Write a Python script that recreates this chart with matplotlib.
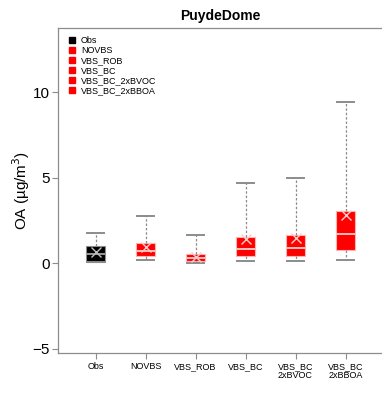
import matplotlib.pyplot as plt
from matplotlib.lines import Line2D

plt.rcParams['font.family'] = ['Liberation Sans', 'DejaVu Sans']

site = "PuydeDome"
runs = ["Obs", "NOVBS", "VBS_ROB", "VBS_BC", "VBS_BC_2xBVOC", "VBS_BC_2xBBOA"]
tick_labels = ["Obs", "NOVBS", "VBS_ROB", "VBS_BC", "VBS_BC\n2xBVOC", "VBS_BC\n2xBBOA"]

# box statistics per run (ug/m3)
whislo = [0.08, 0.20, 0.03, 0.12, 0.12, 0.18]
q1 = [0.08, 0.40, 0.12, 0.43, 0.43, 0.78]
med = [0.53, 0.72, 0.31, 0.84, 0.91, 1.73]
q3 = [0.98, 1.17, 0.54, 1.56, 1.63, 3.08]
whishi = [1.76, 2.79, 1.66, 4.72, 5.01, 9.45]
means = [0.63, 0.97, 0.39, 1.40, 1.48, 2.82]

box_colors = ["black", "red", "red", "red", "red", "red"]

fig = plt.figure(figsize=(3.82, 3.94), dpi=100)
ax = fig.add_axes([58 / 382, 1 - 353 / 394, 1 - 58 / 382, (353 - 28) / 394])

gray = "#8c8c8c"
for i in range(len(runs)):
    stats = [dict(whislo=whislo[i], q1=q1[i], med=med[i], q3=q3[i],
                  whishi=whishi[i], mean=means[i], fliers=[])]
    dark = box_colors[i] == "black"
    ax.bxp(stats, positions=[i + 1], widths=0.39, patch_artist=True,
           showmeans=True, manage_ticks=False,
           boxprops=dict(facecolor=box_colors[i],
                         edgecolor=gray if dark else (1, 0.7, 0.7), lw=0.8),
           medianprops=dict(color="#9a9a9a" if dark else (1, 0.75, 0.75), lw=1.4),
           whiskerprops=dict(color=gray, ls=(0, (2, 1.5)), lw=0.9),
           capprops=dict(color=gray, lw=1.4),
           capwidths=0.33,
           meanprops=dict(marker="x", markersize=7.5, markeredgewidth=1.0,
                          markeredgecolor="#bdbdbd" if dark else (1, 0.8, 0.8)))

ax.set_xlim(0.25, 6.73)
ax.set_ylim(-5.25, 13.76)
ax.set_yticks([-5, 0, 5, 10])
ax.set_xticks(range(1, len(runs) + 1))
ax.set_xticklabels(tick_labels, fontsize=6.5, linespacing=0.95)
ax.tick_params(axis="y", labelsize=11, length=4, width=0.8, color=gray, pad=2)
ax.tick_params(axis="x", length=4, width=0.8, color=gray, pad=2.5)
for s in ["left", "bottom", "top"]:
    ax.spines[s].set_color(gray)
    ax.spines[s].set_linewidth(0.9)
ax.spines["right"].set_visible(False)

ax.set_ylabel("OA (µg/m$^3$)", fontsize=11, labelpad=0)
ax.set_title(site, fontsize=10, fontweight="bold", pad=6)

handles = [Line2D([], [], ls="none", marker="s", markersize=5,
                  markerfacecolor=c, markeredgecolor=c) for c in box_colors]
ax.legend(handles, runs, loc="upper left", bbox_to_anchor=(0.01, 0.997),
          frameon=False, fontsize=6.5, handlelength=0.8, handletextpad=0.6,
          labelspacing=0.12, borderpad=0.3)

fig.savefig("out.png", dpi=100)
